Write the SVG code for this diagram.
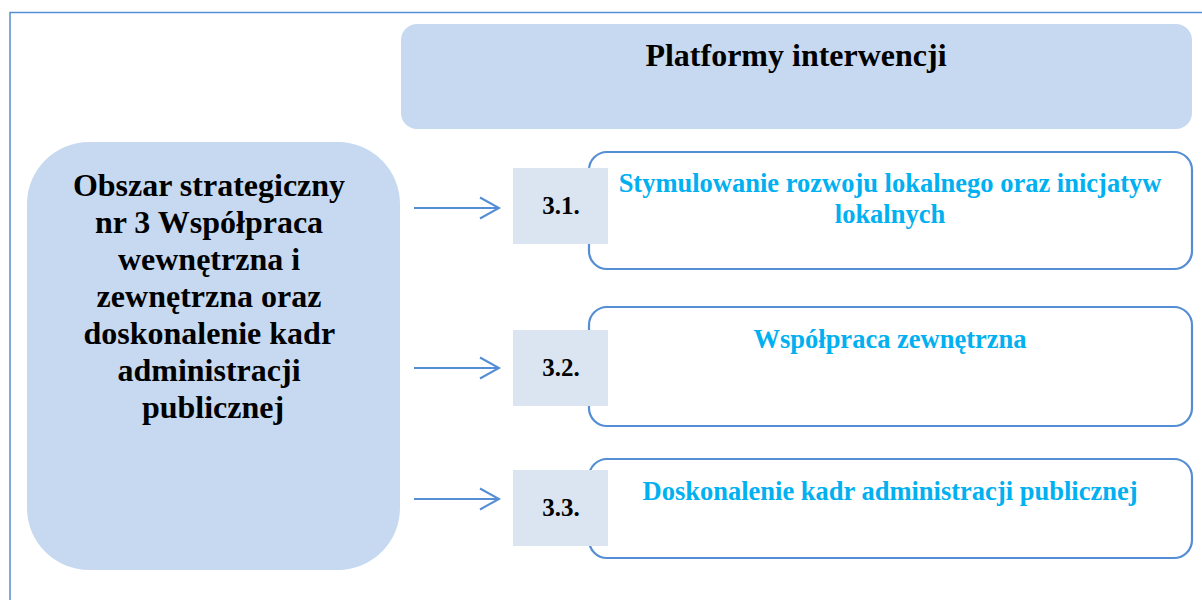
<svg xmlns="http://www.w3.org/2000/svg" width="1202" height="600" viewBox="0 0 1202 600">
<style>
.frame{fill:none;stroke:#558ed5;stroke-width:1.5}
.head{fill:#c6d9f1}
.main{fill:#c6d9f1}
.num{fill:#dbe5f1}
.plat{fill:#fff;stroke:#558ed5;stroke-width:2.2}
.conn{stroke:#558ed5;stroke-width:2;fill:none}
.t{font-family:"Liberation Serif","Times New Roman",serif;font-weight:bold;text-anchor:middle}
.black{fill:#000}
.blue{fill:#00b0f0;font-size:26.5px}
</style>
<defs>
<marker id="arr" viewBox="0 0 24 24" refX="21" refY="12" markerWidth="24" markerHeight="24" markerUnits="userSpaceOnUse" orient="auto">
<polyline points="2,1.5 21,12 2,22.5" fill="none" stroke="#558ed5" stroke-width="2"/>
</marker>
</defs>
<rect width="1202" height="600" fill="#fff"/>
<path class="frame" d="M10,600 V12.5 H1202"/>
<g id="header">
<rect class="head" x="401" y="24" width="791" height="105" rx="16"/>
<text class="t black" x="796" y="66" font-size="32">Platformy interwencji</text>
</g>
<g id="obszar">
<rect class="main" x="27" y="142" width="373" height="428" rx="62"/>
<text class="t black" font-size="32">
<tspan x="213" y="196">Obszar strategiczny</tspan>
<tspan x="213" y="233">nr 3 Współpraca</tspan>
<tspan x="213" y="270">wewnętrzna i</tspan>
<tspan x="213" y="307">zewnętrzna oraz</tspan>
<tspan x="213" y="344">doskonalenie kadr</tspan>
<tspan x="213" y="381">administracji</tspan>
<tspan x="213" y="418">publicznej</tspan>
</text>
</g>
<g id="connectors">
<line class="conn" x1="414" y1="208" x2="499" y2="208" marker-end="url(#arr)"/>
<line class="conn" x1="414" y1="368" x2="499" y2="368" marker-end="url(#arr)"/>
<line class="conn" x1="414" y1="499" x2="499" y2="499" marker-end="url(#arr)"/>
</g>
<g id="platform-3-1">
<rect class="plat" x="589" y="152" width="603" height="117" rx="18"/>
<rect class="num" x="513" y="168" width="95" height="76"/>
<text class="t black" x="561" y="214" font-size="25">3.1.</text>
<text class="t blue"><tspan x="890" y="192">Stymulowanie rozwoju lokalnego oraz inicjatyw</tspan><tspan x="890" y="223">lokalnych</tspan></text>
</g>
<g id="platform-3-2">
<rect class="plat" x="589" y="307" width="603" height="119" rx="18"/>
<rect class="num" x="513" y="330" width="95" height="76"/>
<text class="t black" x="561" y="376" font-size="25">3.2.</text>
<text class="t blue" x="890" y="348">Współpraca zewnętrzna</text>
</g>
<g id="platform-3-3">
<rect class="plat" x="589" y="459" width="603" height="99" rx="18"/>
<rect class="num" x="513" y="470" width="95" height="76"/>
<text class="t black" x="561" y="516" font-size="25">3.3.</text>
<text class="t blue" x="890" y="500">Doskonalenie kadr administracji publicznej</text>
</g>
</svg>
